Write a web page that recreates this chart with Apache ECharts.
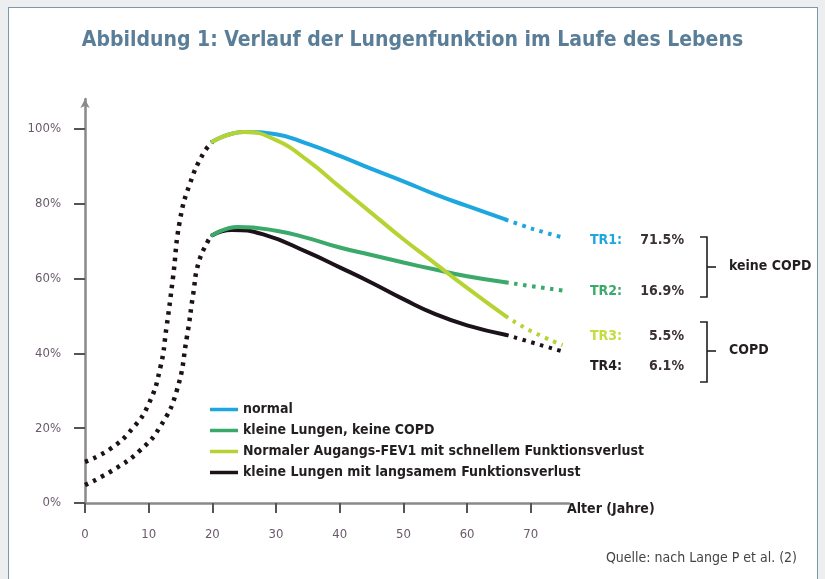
<!DOCTYPE html>
<html>
<head>
<meta charset="utf-8">
<script src="https://cdn.jsdelivr.net/npm/echarts@6/dist/echarts.min.js"></script>
<style>
  body { margin: 0; background: #eceef0; }
  .frame { position: absolute; left: 8px; top: 7px; width: 808px; height: 600px; background: #fff; border: 1.5px solid #7d97ab; }
  #main { position: absolute; left: 0; top: 0; width: 825px; height: 579px; }
</style>
</head>
<body>
<div class="frame"></div>
<div id="main"></div>
<script>
// Werte: [Alter, % FEV1]
const riseHigh = [[0, 11], [4, 14.5], [7.5, 20], [10, 26.5], [11.8, 36], [12.8, 47], [13.8, 60], [14.9, 75.5], [16.5, 85.5], [18.6, 93.5], [20, 96.5]]
const riseLow = [[0, 4.8], [4.4, 8.8], [8.6, 14], [11.8, 20.4], [14.4, 30], [16, 44.4], [17, 56], [17.8, 64], [19.3, 70], [20, 71.6]]

const normal = [[20, 96.6], [25, 99.2], [30, 98.6], [35, 96], [40, 92.8], [45, 89.3], [50, 86], [55, 82.5], [60, 79.4], [66, 75.8]]
const kleinKeine = [[20, 71.6], [24, 73.8], [30, 72.8], [35, 70.8], [40, 68.3], [45, 66.3], [50, 64.3], [55, 62.4], [60, 60.6], [66, 59]]
const schnell = [[20, 96.6], [25, 99.2], [30, 97], [35, 91.5], [40, 84.5], [45, 77.5], [50, 70.5], [55, 64], [60, 57.5], [66, 50]]
const langsam = [[20, 71.6], [23, 73], [28, 71.8], [35, 67], [40, 63], [45, 58.9], [50, 54.5], [55, 50.5], [60, 47.5], [66, 45]]

const normalTail = [[66, 75.8], [69, 74], [72, 72.4], [75, 71]]
const kleinKeineTail = [[66, 59], [70, 58], [75, 56.8]]
const schnellTail = [[66, 50], [70, 46], [75, 42.2]]
const langsamTail = [[66, 45], [70, 43], [75, 40.5]]

const legendNames = ['normal', 'kleine Lungen, keine COPD', 'Normaler Augangs-FEV1 mit schnellem Funktionsverlust', 'kleine Lungen mit langsamem Funktionsverlust']
const colors = ['#1ea6df', '#3aa96a', '#b6d334', '#1c1219']

const xTicks = [0, 10, 20, 30, 40, 50, 60, 70]
const yTicks = [0, 20, 40, 60, 80, 100]

const trLabels = ['TR1', 'TR2', 'TR3', 'TR4']
const trValues = ['71.5%', '16.9%', '5.5%', '6.1%']
const trColors = ['#1ea6df', '#3aa96a', '#c4dc3c', '#231f20']
const groupLabels = ['keine COPD', 'COPD']

const narrow = '"Liberation Sans Narrow", "DejaVu Sans Condensed", "Roboto", sans-serif'
const chart = echarts.init(document.getElementById('main'))

const solid = (name, data, color) => ({
  name, type: 'line', data, smooth: 0.5, symbol: 'none', color,
  lineStyle: { width: 4, color, cap: 'round' },
  emphasis: { disabled: true }
})
const dotted = (name, data, color, w) => ({
  name, type: 'line', data, smooth: 0.5, symbol: 'none', color,
  lineStyle: { width: w, color, type: [3.5, 5.5], cap: 'butt' },
  emphasis: { disabled: true }
})

// TR-Beschriftungen rechts
const trRows = [241, 292, 337, 367]
const trGraphics = []
trLabels.forEach((t, i) => {
  trGraphics.push({ type: 'text', left: 590, top: trRows[i] - 8,
    style: { text: t + ':', fill: trColors[i], font: 'bold 14px ' + narrow } })
  trGraphics.push({ type: 'text', x: 684, y: trRows[i] - 8,
    style: { text: trValues[i], fill: '#3a3035', font: 'bold 14px ' + narrow, textAlign: 'right' } })
})
const bracket = (y1, y2) => ({
  type: 'polyline',
  shape: { points: [[700, y1], [707, y1], [707, y2], [700, y2]] },
  style: { stroke: '#231f20', lineWidth: 1.6, fill: null }
})
const tick = (y) => ({ type: 'line', shape: { x1: 707, y1: y, x2: 716, y2: y }, style: { stroke: '#231f20', lineWidth: 1.6 } })

const option = {
  animation: false,
  title: {
    text: 'Abbildung 1: Verlauf der Lungenfunktion im Laufe des Lebens',
    left: 'center', top: 25,
    textStyle: { color: '#5a7e98', fontSize: 21, fontWeight: 'bold', fontFamily: narrow }
  },
  legend: {
    data: legendNames, orient: 'vertical', left: 205, top: 396,
    icon: 'rect', itemWidth: 28, itemHeight: 3.5, itemGap: 4,
    textStyle: { fontSize: 14, fontWeight: 'bold', color: '#231f20', fontFamily: narrow, lineHeight: 17 },
    selectedMode: false
  },
  grid: { left: 85, top: 99, width: 484, height: 404 },
  xAxis: {
    type: 'value', min: 0, max: 76,
    name: 'Alter (Jahre)', nameLocation: 'end', nameGap: -2,
    nameTextStyle: { fontSize: 14, fontWeight: 'bold', color: '#231f20', fontFamily: narrow, verticalAlign: 'top', padding: [-1, 0, 0, 0] },
    axisLine: { lineStyle: { color: '#8a8a8a', width: 2.5 } },
    axisTick: { customValues: xTicks, length: 10, lineStyle: { color: '#555', width: 2 } },
    axisLabel: { customValues: xTicks, margin: 25, color: '#6a5a6a', fontSize: 13, fontFamily: narrow },
    splitLine: { show: false }
  },
  yAxis: {
    type: 'value', min: 0, max: 108,
    axisLine: { show: true, symbol: ['none', 'arrow'], symbolSize: [7, 9], lineStyle: { color: '#8a8a8a', width: 2.5 } },
    axisTick: { show: true, customValues: yTicks, length: 11, lineStyle: { color: '#555', width: 2 } },
    axisLabel: { customValues: yTicks, margin: 24, color: '#6a5a6a', fontSize: 13, fontFamily: narrow, formatter: '{value}%' },
    splitLine: { show: false }
  },
  series: [
    dotted('riseHigh', riseHigh, '#1c1219', 4.5),
    dotted('riseLow', riseLow, '#1c1219', 4.5),
    dotted('normalTail', normalTail, colors[0], 4),
    dotted('kleinKeineTail', kleinKeineTail, colors[1], 4),
    dotted('schnellTail', schnellTail, colors[2], 4),
    dotted('langsamTail', langsamTail, colors[3], 4),
    solid(legendNames[0], normal, colors[0]),
    solid(legendNames[3], langsam, colors[3]),
    solid(legendNames[1], kleinKeine, colors[1]),
    solid(legendNames[2], schnell, colors[2])
  ],
  graphic: [
    ...trGraphics,
    bracket(237, 297), tick(267),
    bracket(322, 382), tick(351),
    { type: 'text', left: 729, top: 259, style: { text: groupLabels[0], fill: '#231f20', font: 'bold 14px ' + narrow } },
    { type: 'text', left: 729, top: 343, style: { text: groupLabels[1], fill: '#231f20', font: 'bold 14px ' + narrow } },
    { type: 'text', right: 28, top: 551, style: { text: 'Quelle: nach Lange P et al. (2)', fill: '#444', font: '14px ' + narrow } }
  ]
}

chart.setOption(option)
</script>
</body>
</html>
